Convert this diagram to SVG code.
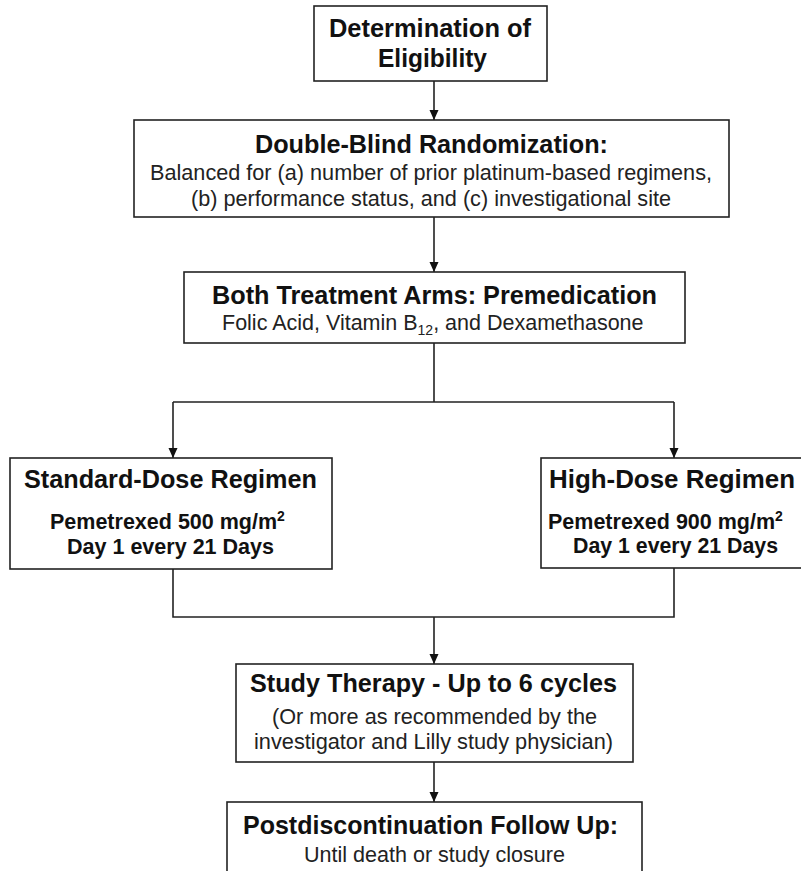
<svg xmlns="http://www.w3.org/2000/svg" width="801" height="871" viewBox="0 0 801 871">
<style>
.box{fill:#fff;stroke:#222;stroke-width:1.6}
.t{font-family:"Liberation Sans",Arial,sans-serif;font-weight:bold;font-size:25px;fill:#111}
.b{font-family:"Liberation Sans",Arial,sans-serif;font-weight:bold;font-size:21.5px;fill:#111}
.r{font-family:"Liberation Sans",Arial,sans-serif;font-size:21.5px;fill:#222}
.c{fill:none;stroke:#222;stroke-width:1.6}
</style>
<defs>
<marker id="ah" markerUnits="userSpaceOnUse" markerWidth="10" markerHeight="10" refX="10" refY="5" orient="auto" viewBox="0 0 10 10">
<path d="M0,0.5 L10,5 L0,9.5 z" fill="#111"/>
</marker>
</defs>
<rect width="801" height="871" fill="#fff"/>
<g id="connectors">
<path class="c" d="M434 81 V120" marker-end="url(#ah)"/>
<path class="c" d="M434 217 V272" marker-end="url(#ah)"/>
<path class="c" d="M434 343 V402 M173 402 H674"/>
<path class="c" d="M173 402 V458" marker-end="url(#ah)"/>
<path class="c" d="M674 402 V458" marker-end="url(#ah)"/>
<path class="c" d="M173 569 V617 H674 V568"/>
<path class="c" d="M434 617 V664" marker-end="url(#ah)"/>
<path class="c" d="M434 762 V802" marker-end="url(#ah)"/>
</g>
<g id="eligibility">
<rect class="box" x="314" y="6" width="233" height="75"/>
<text class="t" x="329" y="37" textLength="202" lengthAdjust="spacingAndGlyphs">Determination of</text>
<text class="t" x="378" y="67" textLength="109" lengthAdjust="spacingAndGlyphs">Eligibility</text>
</g>
<g id="randomization">
<rect class="box" x="134" y="120" width="595" height="97"/>
<text class="t" x="255" y="153" textLength="353" lengthAdjust="spacingAndGlyphs">Double-Blind Randomization:</text>
<text class="r" x="150" y="180" textLength="562" lengthAdjust="spacingAndGlyphs">Balanced for (a) number of prior platinum-based regimens,</text>
<text class="r" x="191" y="206" textLength="480" lengthAdjust="spacingAndGlyphs">(b) performance status, and (c) investigational site</text>
</g>
<g id="premedication">
<rect class="box" x="184" y="272" width="501" height="71"/>
<text class="t" x="212" y="304" textLength="445" lengthAdjust="spacingAndGlyphs">Both Treatment Arms: Premedication</text>
<text class="r" x="222" y="330">Folic Acid, Vitamin B<tspan font-size="14" dy="5">12</tspan><tspan dy="-5">, and Dexamethasone</tspan></text>
</g>
<g id="standard-dose">
<rect class="box" x="10" y="458" width="322" height="111"/>
<text class="t" x="24" y="488" textLength="293" lengthAdjust="spacingAndGlyphs">Standard-Dose Regimen</text>
<text class="b" x="50" y="529">Pemetrexed 500 mg/m<tspan font-size="14" dy="-8">2</tspan></text>
<text class="b" x="67" y="554" textLength="207" lengthAdjust="spacingAndGlyphs">Day 1 every 21 Days</text>
</g>
<g id="high-dose">
<rect class="box" x="541" y="458" width="266" height="110"/>
<text class="t" x="549" y="488" textLength="246" lengthAdjust="spacingAndGlyphs">High-Dose Regimen</text>
<text class="b" x="548" y="529">Pemetrexed 900 mg/m<tspan font-size="14" dy="-8">2</tspan></text>
<text class="b" x="573" y="553" textLength="205" lengthAdjust="spacingAndGlyphs">Day 1 every 21 Days</text>
</g>
<g id="study-therapy">
<rect class="box" x="236" y="664" width="397" height="98"/>
<text class="t" x="250" y="692" textLength="367" lengthAdjust="spacingAndGlyphs">Study Therapy - Up to 6 cycles</text>
<text class="r" x="272" y="724" textLength="325" lengthAdjust="spacingAndGlyphs">(Or more as recommended by the</text>
<text class="r" x="254" y="749" textLength="359" lengthAdjust="spacingAndGlyphs">investigator and Lilly study physician)</text>
</g>
<g id="follow-up">
<rect class="box" x="227" y="802" width="415" height="80"/>
<text class="t" x="243" y="834" textLength="375" lengthAdjust="spacingAndGlyphs">Postdiscontinuation Follow Up:</text>
<text class="r" x="304" y="862" textLength="261" lengthAdjust="spacingAndGlyphs">Until death or study closure</text>
</g>
</svg>
